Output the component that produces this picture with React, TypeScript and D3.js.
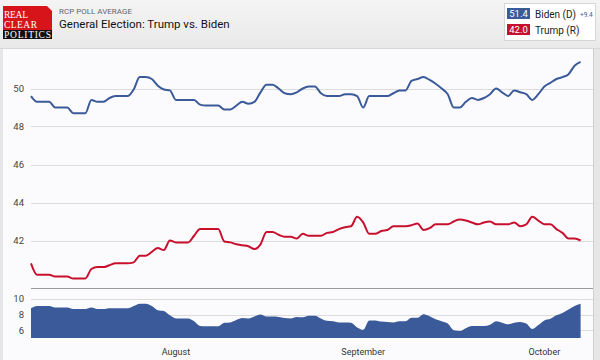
import React, {useEffect, useRef} from 'react';
import * as d3 from 'd3';

// RCP poll average, daily from July 8 2020
const startDay = '2020-07-08';

const biden = [
    49.6, 49.3, 49.3, 49.3, 49.0, 49.0, 49.0, 48.7, 48.7, 48.7,
    49.4, 49.3, 49.3, 49.5, 49.6, 49.6, 49.6, 49.95, 50.6, 50.6,
    50.5, 50.15, 49.95, 49.9, 49.4, 49.4, 49.4, 49.4, 49.15, 49.1,
    49.1, 49.1, 48.9, 48.9, 49.1, 49.3, 49.2, 49.3, 49.8, 50.2,
    50.2, 50.0, 49.75, 49.7, 49.8, 50.0, 50.1, 50.1, 49.75, 49.6,
    49.6, 49.6, 49.7, 49.7, 49.6, 49.0, 49.6, 49.6, 49.6, 49.6,
    49.75, 49.9, 49.9, 50.4, 50.5, 50.6, 50.45, 50.25, 50.0, 49.7,
    49.0, 49.0, 49.3, 49.5, 49.4, 49.5, 49.7, 50.0, 49.8, 49.6,
    49.9, 49.8, 49.7, 49.4, 49.7, 50.1, 50.3, 50.5, 50.6, 50.75,
    51.2, 51.4
];

const trump = [
    40.8, 40.2, 40.2, 40.2, 40.1, 40.1, 40.1, 40.0, 40.0, 40.0,
    40.5, 40.6, 40.6, 40.7, 40.8, 40.8, 40.8, 40.85, 41.2, 41.2,
    41.4, 41.6, 41.5, 42.0, 41.9, 41.9, 41.9, 42.25, 42.6, 42.6,
    42.6, 42.6, 41.95, 41.9, 41.8, 41.75, 41.7, 41.55, 41.8, 42.45,
    42.45, 42.3, 42.2, 42.2, 42.1, 42.35, 42.25, 42.25, 42.25, 42.4,
    42.45, 42.6, 42.7, 42.75, 43.25, 42.95, 42.35, 42.35, 42.5, 42.55,
    42.75, 42.75, 42.75, 42.8, 42.9, 42.55, 42.65, 42.85, 42.85, 42.85,
    43.0, 43.1, 43.05, 42.95, 42.85, 42.95, 43.0, 42.85, 42.85, 42.85,
    42.95, 42.75, 42.85, 43.25, 43.05, 42.85, 42.85, 42.6, 42.4, 42.1,
    42.1, 42.0
];

const mainTicks = [42, 44, 46, 48, 50];
const spreadTicks = [6, 8, 10];
const candidates = ['Biden (D)', 'Trump (R)'];

function App() {
    const ref = useRef<SVGSVGElement>(null);

    const width = 600;
    const height = 360;
    const blue = '#3b5a9a';
    const red = '#c8102e';

    useEffect(() => {
        const svg = d3.select(ref.current);
        svg.selectAll('*').remove();

        const parse = d3.timeParse('%Y-%m-%d');
        const t0 = parse(startDay) as Date;
        const dates = biden.map((_, i) => d3.timeDay.offset(t0, i));
        const data = dates.map((d, i) => ({
            date: d,
            biden: biden[i],
            trump: trump[i],
            spread: biden[i] - trump[i]
        }));

        const x = d3.scaleTime()
            .domain([dates[0], dates[dates.length - 1]])
            .range([31, 580.6]);
        const y = d3.scaleLinear().domain([39.5, 52]).range([288, 50.5]);
        const ys = d3.scaleLinear().domain([5, 11.4]).range([338, 288]);

        const font = 'Roboto, sans-serif';

        // backgrounds
        svg.append('rect').attr('width', width).attr('height', height).attr('fill', '#e6e6e6');
        svg.append('rect').attr('x', 3).attr('y', 48).attr('width', 590).attr('height', 312).attr('fill', '#fbfbfd');

        const grad = svg.append('defs').append('linearGradient')
            .attr('id', 'hdr').attr('x1', 0).attr('y1', 0).attr('x2', 0).attr('y2', 1);
        grad.append('stop').attr('offset', '0%').attr('stop-color', '#f4f4f4');
        grad.append('stop').attr('offset', '100%').attr('stop-color', '#e9e9e9');
        svg.append('rect').attr('width', width).attr('height', 48).attr('fill', 'url(#hdr)');
        svg.append('line').attr('x1', 0).attr('x2', width).attr('y1', 48.5).attr('y2', 48.5)
            .attr('stroke', '#d8d8d8');

        // logo
        const logo = svg.append('g').attr('transform', 'translate(3,6)');
        logo.append('path').attr('d', 'M0,0 H44 L49,5 V24 H0 Z').attr('fill', '#d7141a');
        logo.append('rect').attr('y', 24).attr('width', 49).attr('height', 9).attr('fill', '#111');
        const serif = 'Liberation Serif, serif';
        logo.append('text').attr('x', 1).attr('y', 12).text('REAL')
            .attr('font-family', serif).attr('font-size', 9.5).attr('textLength', 24).attr('fill', '#fff');
        logo.append('text').attr('x', 1).attr('y', 22).text('CLEAR')
            .attr('font-family', serif).attr('font-size', 9.5).attr('textLength', 33).attr('fill', '#fff');
        logo.append('text').attr('x', 1).attr('y', 32).text('POLITICS')
            .attr('font-family', serif).attr('font-size', 9.5)
            .attr('textLength', 47).attr('fill', '#fff');

        svg.append('text').attr('x', 59).attr('y', 14).text('RCP POLL AVERAGE')
            .attr('font-family', font).attr('font-size', 8).attr('fill', '#666');
        svg.append('text').attr('x', 59).attr('y', 28).text('General Election: Trump vs. Biden')
            .attr('font-family', font).attr('font-size', 11.5).attr('fill', '#111');

        // legend
        const lg = svg.append('g');
        lg.append('rect').attr('x', 504.5).attr('y', 3.5).attr('width', 91).attr('height', 37)
            .attr('fill', '#fff').attr('stroke', '#d6d6d6');
        const lastB = biden[biden.length - 1];
        const lastT = trump[trump.length - 1];
        const rows = [
            {name: candidates[0], val: lastB, color: blue},
            {name: candidates[1], val: lastT, color: red}
        ];
        rows.forEach((r, i) => {
            const yy = 8 + i * 16;
            lg.append('rect').attr('x', 507).attr('y', yy).attr('width', 23).attr('height', 11).attr('fill', r.color);
            lg.append('text').attr('x', 518.5).attr('y', yy + 9).attr('text-anchor', 'middle')
                .text(r.val.toFixed(1)).attr('font-family', font).attr('font-size', 9.5).attr('fill', '#fff');
            lg.append('text').attr('x', 535).attr('y', yy + 9.5).text(r.name)
                .attr('font-family', font).attr('font-size', 10).attr('fill', '#222');
        });
        lg.append('text').attr('x', 580).attr('y', 16.5).text('+' + (lastB - lastT).toFixed(1))
            .attr('font-family', font).attr('font-size', 6.5).attr('fill', blue);

        // main grid
        const g = svg.append('g');
        g.selectAll('.grid').data(mainTicks).enter().append('line')
            .attr('x1', 31).attr('x2', 593)
            .attr('y1', (d) => Math.round(y(d)) + 0.5).attr('y2', (d) => Math.round(y(d)) + 0.5)
            .attr('stroke', '#dcdcdc');
        g.selectAll('.lab').data(mainTicks).enter().append('text')
            .attr('x', 24).attr('y', (d) => y(d) + 3.5).attr('text-anchor', 'end')
            .text((d) => d).attr('font-family', font).attr('font-size', 9.5).attr('fill', '#444');

        // spread grid
        g.selectAll('.sgrid').data(spreadTicks).enter().append('line')
            .attr('x1', 31).attr('x2', 593)
            .attr('y1', (d) => Math.round(ys(d)) + 0.5).attr('y2', (d) => Math.round(ys(d)) + 0.5)
            .attr('stroke', '#dcdcdc');
        g.selectAll('.slab').data(spreadTicks).enter().append('text')
            .attr('x', 24).attr('y', (d) => ys(d) + 3.5).attr('text-anchor', 'end')
            .text((d) => d).attr('font-family', font).attr('font-size', 9.5).attr('fill', '#444');

        // divider
        g.append('line').attr('x1', 31).attr('x2', 593).attr('y1', 288.5).attr('y2', 288.5)
            .attr('stroke', '#999');

        // right border
        g.append('line').attr('x1', 593.5).attr('x2', 593.5).attr('y1', 48).attr('y2', 360)
            .attr('stroke', '#d0d0d0');

        // spread area
        const area = d3.area<any>()
            .x((d) => x(d.date))
            .y0(ys(5))
            .y1((d) => ys(d.spread))
            .curve(d3.curveMonotoneX);
        g.append('path').datum(data).attr('d', area).attr('fill', blue);

        // candidate lines
        const lineB = d3.line<any>().x((d) => x(d.date)).y((d) => y(d.biden)).curve(d3.curveMonotoneX);
        const lineT = d3.line<any>().x((d) => x(d.date)).y((d) => y(d.trump)).curve(d3.curveMonotoneX);
        g.append('path').datum(data).attr('d', lineB).attr('fill', 'none')
            .attr('stroke', blue).attr('stroke-width', 2).attr('stroke-linejoin', 'round');
        g.append('path').datum(data).attr('d', lineT).attr('fill', 'none')
            .attr('stroke', red).attr('stroke-width', 2).attr('stroke-linejoin', 'round');

        // month labels
        const months = x.ticks(d3.timeMonth.every(1));
        g.selectAll('.mon').data(months).enter().append('text')
            .attr('x', (d) => x(d)).attr('y', 355).attr('text-anchor', 'middle')
            .text((d) => d3.timeFormat('%B')(d))
            .attr('font-family', font).attr('font-size', 9).attr('fill', '#333');
    }, []);

    return (
        <svg ref={ref} width={width} height={height}
             style={{position: 'absolute', left: 0, top: 0, display: 'block'}}/>
    );
}

export default App;
